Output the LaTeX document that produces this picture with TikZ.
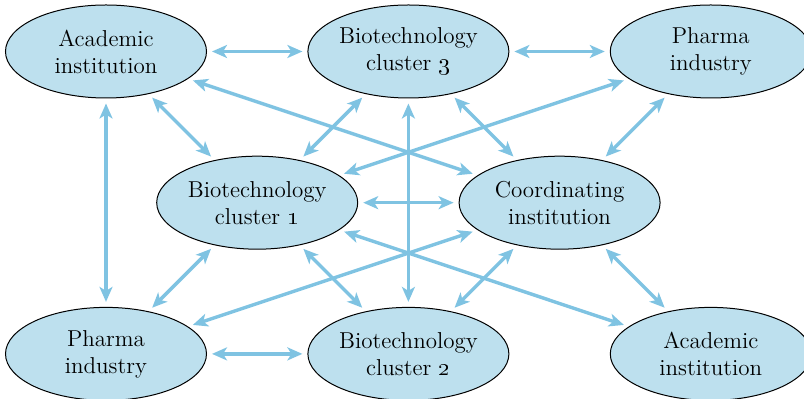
\documentclass[tikz,border=0pt]{standalone}
\usepackage{tikz}
\usetikzlibrary{arrows.meta,positioning,shapes.geometric}
\definecolor{boxblue}{RGB}{189,224,238}
\definecolor{linkblue}{RGB}{127,195,226}

\begin{document}
\begin{tikzpicture}[<->,>={Stealth[length=7.5pt,width=6.5pt,inset=2pt]},
                    on grid,node distance=75.6pt and 75.6pt]
  \tikzstyle{actor}=[ellipse,draw=black,line width=0.5pt,fill=boxblue,
                     minimum width=100.5pt,minimum height=46.5pt,inner sep=0pt,
                     align=center,font=\fontsize{11.5}{13.5}\selectfont]
  \tikzstyle{every edge}=[draw=linkblue,line width=1.7pt,
                          shorten >=2.5pt,shorten <=2.5pt]

  \useasboundingbox (-53pt,25.75pt) rectangle ++(402pt,-199.5pt);

  \node[actor] (acad1)                          {Academic\\institution};
  \node[actor] (bio1)    [below right=of acad1] {Biotechnology\\cluster \oldstylenums{1}};
  \node[actor] (bio3)    [above right=of bio1]  {Biotechnology\\cluster \oldstylenums{3}};
  \node[actor] (coord)   [below right=of bio3]  {Coordinating\\institution};
  \node[actor] (pharma1) [above right=of coord] {Pharma\\industry};
  \node[actor] (pharma2) [below left=of bio1]   {Pharma\\industry};
  \node[actor] (bio2)    [below right=of bio1]  {Biotechnology\\cluster \oldstylenums{2}};
  \node[actor] (acad2)   [below right=of coord] {Academic\\institution};

  \path (acad1)   edge (bio3)
                  edge (pharma2)
                  edge (bio1)
                  edge (coord)
        (bio3)    edge (pharma1)
                  edge (bio1)
                  edge (bio2)
                  edge (coord)
        (pharma1) edge (bio1)
                  edge (coord)
        (bio1)    edge (coord)
                  edge (pharma2)
                  edge (bio2)
                  edge (acad2)
        (coord)   edge (pharma2)
                  edge (bio2)
                  edge (acad2)
        (pharma2) edge (bio2);
\end{tikzpicture}
\end{document}
